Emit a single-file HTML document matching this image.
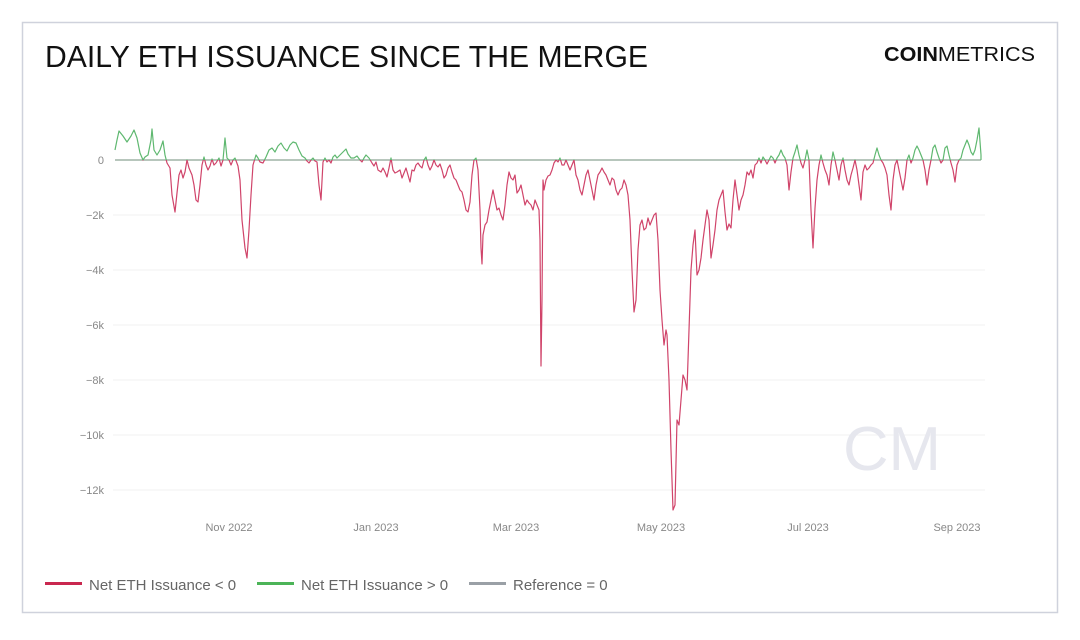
<!DOCTYPE html>
<html><head><meta charset="utf-8"><style>
body{margin:0;background:#fff;width:1080px;height:635px;overflow:hidden;font-family:"Liberation Sans",sans-serif}
</style></head><body>
<svg width="1080" height="635" xmlns="http://www.w3.org/2000/svg">
<rect x="22.5" y="22.5" width="1035" height="590" fill="#fff" stroke="#cfd2dc" stroke-width="1.5"/>
<text x="45" y="67" font-size="31" fill="#111" font-family="Liberation Sans, sans-serif" textLength="603" lengthAdjust="spacingAndGlyphs">DAILY ETH ISSUANCE SINCE THE MERGE</text>
<text x="884" y="61" font-size="20" fill="#111" textLength="151" lengthAdjust="spacingAndGlyphs"><tspan font-weight="bold">COIN</tspan><tspan font-weight="normal">METRICS</tspan></text>
<g stroke="#f0f0f2" stroke-width="1">
<line x1="113" x2="985" y1="215" y2="215"/><line x1="113" x2="985" y1="270" y2="270"/><line x1="113" x2="985" y1="325" y2="325"/><line x1="113" x2="985" y1="380" y2="380"/><line x1="113" x2="985" y1="435" y2="435"/><line x1="113" x2="985" y1="490" y2="490"/>
</g>
<g font-size="11" fill="#888" text-anchor="end">
<text x="104" y="164">0</text><text x="104" y="219">−2k</text><text x="104" y="274">−4k</text><text x="104" y="329">−6k</text><text x="104" y="384">−8k</text><text x="104" y="439">−10k</text><text x="104" y="494">−12k</text>
</g>
<g font-size="11" fill="#888" text-anchor="middle">
<text x="229" y="531">Nov 2022</text><text x="376" y="531">Jan 2023</text><text x="516" y="531">Mar 2023</text><text x="661" y="531">May 2023</text><text x="808" y="531">Jul 2023</text><text x="957" y="531">Sep 2023</text>
</g>
<text x="843" y="470" font-size="62" fill="#e6e7ee" textLength="98" lengthAdjust="spacingAndGlyphs">CM</text>
<defs>
<clipPath id="neg"><rect x="100" y="160" width="900" height="400"/></clipPath>
<clipPath id="pos"><rect x="100" y="100" width="900" height="60"/></clipPath>
<polyline id="d" fill="none" stroke-width="1.2" stroke-linejoin="round" points="115,150 117,140 119,131 123,136 127,142 131,136 134,130 137,138 140,153 143,160 145,157 148,155 151,140 152,129 154,150 157,155 160,150 163,141 165,155 167,163 170,168 172,195 175,212 177,193 179,175 181,170 183,178 185,172 187,160 189,168 192,175 194,185 196,200 198,202 200,185 202,165 204,157 206,165 208,170 210,166 212,159 214,165 216,163 219,158 221,166 223,160 225,138 227,158 229,160 231,165 233,160 235,158 238,166 240,180 242,220 245,248 247,258 249,230 251,195 253,165 256,155 258,158 260,162 263,163 266,157 269,150 272,148 275,152 278,146 281,143 284,148 287,151 290,145 293,142 296,143 299,150 302,156 305,158 307,161 309,163 311,160 313,158 315,161 317,162 319,185 321,200 323,162 325,158 327,162 329,160 331,163 333,157 335,155 337,158 340,155 343,152 346,149 348,154 351,158 354,158 357,156 360,160 362,162 364,158 366,155 369,158 372,163 374,166 376,162 378,170 381,172 383,168 385,172 387,177 389,168 391,158 393,170 395,173 397,172 400,170 402,178 404,173 406,168 408,175 410,182 412,170 414,171 416,165 418,163 420,166 422,168 424,160 426,157 428,165 430,170 432,166 434,160 436,165 438,167 440,164 442,170 444,178 446,175 448,168 450,165 452,172 454,178 456,180 458,185 460,190 462,192 464,200 466,210 468,212 470,202 472,175 474,160 476,158 478,170 480,210 481,248 482,264 483,235 485,225 487,222 489,210 491,200 493,190 495,200 497,210 499,208 501,215 503,220 505,205 507,185 509,172 511,178 513,180 515,175 517,193 519,190 521,185 523,195 525,205 527,200 529,203 531,205 533,210 535,200 537,205 539,210 540,240 541,366 542,300 543,180 544,190 546,180 548,176 550,175 552,170 554,163 556,160 558,162 560,158 562,165 564,165 566,160 568,165 570,170 572,165 574,160 576,175 578,180 580,190 582,195 584,185 586,175 588,170 590,180 592,190 594,200 596,185 598,175 600,172 602,168 604,172 606,175 608,180 610,185 612,178 614,180 616,190 618,195 620,190 622,188 624,180 626,185 628,195 630,220 632,270 634,312 636,300 638,250 640,225 642,220 644,230 646,228 648,218 650,225 652,220 654,215 656,213 658,240 660,290 662,320 664,345 666,330 667,335 669,380 671,450 673,510 675,505 677,420 679,425 681,400 683,375 685,380 687,390 689,330 691,270 693,245 695,230 697,275 699,270 701,258 703,240 705,225 707,210 709,220 711,258 713,245 715,230 717,210 719,200 721,195 723,190 725,212 727,230 729,224 731,228 733,200 735,180 737,195 739,210 741,200 743,195 745,185 747,172 749,175 751,170 753,178 755,165 757,163 759,158 761,163 763,157 765,160 767,164 769,160 771,156 773,158 775,163 777,158 779,155 781,150 783,155 785,158 787,165 789,190 791,172 793,158 795,152 797,145 799,155 801,163 803,168 805,160 807,150 809,160 811,210 813,248 815,208 817,180 819,165 821,155 823,163 825,170 827,175 829,185 831,165 833,152 835,160 837,170 839,180 841,165 843,158 845,170 847,180 849,185 851,175 853,168 855,160 857,170 859,185 861,200 863,172 865,165 867,170 869,168 871,165 873,163 875,155 877,148 879,155 881,160 883,163 885,168 887,175 889,195 891,210 893,180 895,165 897,160 899,170 901,180 903,190 905,178 907,160 909,155 911,163 913,158 915,150 917,146 919,150 921,155 923,160 925,170 927,185 929,170 931,160 933,148 935,145 937,152 939,158 941,163 943,160 945,148 947,146 949,155 951,163 953,170 955,182 957,165 959,160 961,158 963,150 965,145 967,140 969,145 971,152 973,155 975,150 977,140 979,128 981,155 981,160"/>
</defs>
<line x1="115" x2="981" y1="160" y2="160" stroke="#9fb3a6" stroke-width="1.5"/>
<use href="#d" stroke="#d0446a" clip-path="url(#neg)"/>
<use href="#d" stroke="#5fb870" clip-path="url(#pos)"/>
<g font-size="15" fill="#666">
<rect x="45" y="582" width="37" height="3" fill="#c9284f"/><text x="89" y="590">Net ETH Issuance &lt; 0</text>
<rect x="257" y="582" width="37" height="3" fill="#4cb458"/><text x="301" y="590">Net ETH Issuance &gt; 0</text>
<rect x="469" y="582" width="37" height="3" fill="#9aa0a6"/><text x="513" y="590">Reference = 0</text>
</g>
</svg>
</body></html>
